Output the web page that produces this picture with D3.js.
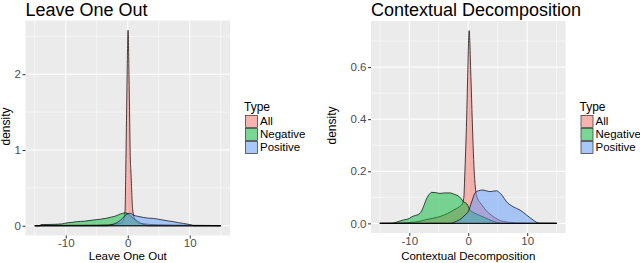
<!DOCTYPE html>
<head>
  <meta charset="utf-8">
  <script src="https://d3js.org/d3.v7.min.js"></script>
  <style>
    body { margin:0; background:#fff; }
    text { font-family: "Liberation Sans", Arial, sans-serif; }
  </style>
</head>
<body>
<script>
  // series: [x, density]
  var typeNames = ["All", "Negative", "Positive"];
  var typeColors = ["#F8766D", "#00BA38", "#619CFF"];
  var xTicks = [-10, 0, 10];
  var xMinor = [-15, -5, 5, 15];

  // Leave One Out
  var looYTicks = [0, 1, 2];
  var looYMinor = [0.5, 1.5, 2.5];
  var looAll = [[-15,0],[-12,0.005],[-8,0.007],[-5,0.01],[-2,0.02],[-1,0.04],[-0.6,0.1],[-0.43,0.21],
    [-0.32,0.74],[-0.22,1.3],[-0.1,2.0],[0.05,2.58],[0.2,2.0],[0.32,1.36],[0.42,0.87],[0.5,0.74],
    [0.8,0.21],[1.2,0.08],[2,0.03],[5,0.012],[10,0.006],[13,0.004],[15,0]];
  var looNeg = [[-15,0],[-14.2,0],[-14,0.015],[-12,0.018],[-10.5,0.025],[-10.2,0.032],[-9,0.045],
    [-8.3,0.053],[-7,0.06],[-5.6,0.075],[-4.5,0.085],[-3.5,0.098],[-2.6,0.115],[-1.9,0.13],
    [-1.2,0.155],[-0.8,0.164],[-0.4,0.17],[-0.15,0.165],[0.3,0.14],[1,0.09],[1.6,0.06],[2.2,0.03],
    [2.8,0.01],[3.5,0],[15,0]];
  var looPos = [[-15,0],[-3.3,0],[-3,0.005],[-2,0.03],[-1.2,0.07],[-0.6,0.12],[-0.2,0.15],[0.4,0.165],
    [0.9,0.14],[1.6,0.125],[2.5,0.11],[3.3,0.1],[4.1,0.097],[5,0.085],[5.7,0.075],[6.5,0.064],
    [7.4,0.053],[8.2,0.04],[9,0.03],[9.7,0.02],[10.3,0.01],[10.6,0],[15,0]];

  // Contextual Decomposition
  var cdYTicks = [0, 0.2, 0.4, 0.6];
  var cdYMinor = [0.1, 0.3, 0.5, 0.7];
  var cdAll = [[-15,0],[-12,0.001],[-9,0.005],[-7,0.015],[-5,0.025],[-4,0.033],[-3,0.044],[-2.5,0.051],
    [-2,0.057],[-1.5,0.064],[-1,0.075],[-0.75,0.1],[-0.56,0.205],[-0.28,0.397],[-0.1,0.564],
    [0.15,0.74],[0.45,0.564],[0.68,0.397],[1.0,0.205],[1.2,0.14],[1.5,0.1],[2,0.08],[2.5,0.065],
    [3,0.05],[4,0.03],[5,0.015],[6,0.007],[8,0.002],[10,0.001],[15,0]];
  var cdNeg = [[-15,0],[-13,0],[-12,0.006],[-11,0.013],[-10,0.019],[-9.6,0.025],[-8.2,0.038],
    [-7.6,0.064],[-7.05,0.096],[-6.6,0.112],[-6.2,0.119],[-5.5,0.118],[-4.8,0.115],[-4,0.117],
    [-3.1,0.117],[-2.4,0.112],[-1.7,0.105],[-1.2,0.095],[-0.85,0.083],[-0.4,0.078],[-0.1,0.07],
    [0.2,0.055],[0.6,0.045],[1,0.04],[2,0.03],[3,0.02],[4,0.01],[5,0.003],[6,0],[15,0]];
  var cdPos = [[-15,0],[-3.1,0],[-2,0.008],[-1.4,0.015],[-1,0.022],[-0.5,0.033],[0,0.045],[0.3,0.064],
    [0.7,0.09],[1.1,0.115],[1.7,0.125],[2.5,0.128],[3.2,0.124],[3.7,0.122],[4.3,0.124],[4.8,0.125],
    [5.3,0.118],[5.7,0.109],[6.5,0.083],[7.6,0.064],[8.8,0.051],[9.9,0.032],[11,0.013],[12.1,0],[15,0]];

  var svg = d3.select("body").append("svg")
    .attr("width", 640)
    .attr("height", 263);

  // ggplot writes a plain hyphen for negatives
  function fmtFn(spec) {
    var f = d3.format(spec);
    return function(v) { return f(v).replace("\u2212", "-"); };
  }

  function drawPanel(p) {
    var g = svg.append("g");
    var all = [].concat.apply([], p.series);
    var xr = [-15, 15], yMax = d3.max(all, function(d) { return d[1]; });
    var xPad = (xr[1] - xr[0]) * 0.05, yPad = yMax * 0.05;

    var x = d3.scaleLinear().domain([xr[0] - xPad, xr[1] + xPad]).range([p.left, p.right]);
    var y = d3.scaleLinear().domain([-yPad, yMax + yPad]).range([p.bottom, p.top]);

    g.append("rect")
      .attr("x", p.left).attr("y", p.top)
      .attr("width", p.right - p.left).attr("height", p.bottom - p.top)
      .attr("fill", "#EBEBEB");

    // grid
    g.selectAll(".gxm").data(xMinor).enter().append("line")
      .attr("x1", x).attr("x2", x).attr("y1", p.top).attr("y2", p.bottom)
      .attr("stroke", "#fff").attr("stroke-width", 0.5);
    g.selectAll(".gym").data(p.yMinor).enter().append("line")
      .attr("y1", y).attr("y2", y).attr("x1", p.left).attr("x2", p.right)
      .attr("stroke", "#fff").attr("stroke-width", 0.5);
    g.selectAll(".gx").data(xTicks).enter().append("line")
      .attr("x1", x).attr("x2", x).attr("y1", p.top).attr("y2", p.bottom)
      .attr("stroke", "#fff").attr("stroke-width", 1);
    g.selectAll(".gy").data(p.yTicks).enter().append("line")
      .attr("y1", y).attr("y2", y).attr("x1", p.left).attr("x2", p.right)
      .attr("stroke", "#fff").attr("stroke-width", 1);

    var area = d3.area()
      .x(function(d) { return x(d[0]); })
      .y0(y(0))
      .y1(function(d) { return y(d[1]); })
      .curve(d3.curveMonotoneX);

    g.selectAll(".dens").data(p.series).enter().append("path")
      .attr("d", function(d) { return area(d) + "Z"; })
      .attr("fill", function(d, i) { return typeColors[i]; })
      .attr("fill-opacity", 0.5)
      .attr("stroke", "#000")
      .attr("stroke-width", 0.7)
      .attr("stroke-linejoin", "round");

    // axes
    var ax = g.append("g")
      .attr("transform", "translate(0," + p.bottom + ")")
      .call(d3.axisBottom(x).tickValues(xTicks).tickSize(3).tickPadding(0.5).tickFormat(fmtFn("d")));
    var ay = g.append("g")
      .attr("transform", "translate(" + p.left + ",0)")
      .call(d3.axisLeft(y).tickValues(p.yTicks).tickSize(3).tickPadding(1.5).tickFormat(fmtFn(p.fmt)));
    [ax, ay].forEach(function(a) {
      a.select(".domain").remove();
      a.selectAll("line").attr("stroke", "#333");
      a.selectAll("text").attr("fill", "#4D4D4D").style("font-size", "11.5px")
        .style("font-family", "'Liberation Sans', Arial, sans-serif");
    });

    g.append("text")
      .attr("x", p.left).attr("y", 16.3)
      .style("font-size", "18px")
      .text(p.title);

    g.append("text")
      .attr("x", (p.left + p.right) / 2).attr("y", 260.4)
      .attr("text-anchor", "middle")
      .style("font-size", "11.5px")
      .text(p.title);

    g.append("text")
      .attr("transform", "translate(" + p.ylabX + "," + ((p.top + p.bottom) / 2 - 1.5) + ") rotate(-90)")
      .attr("text-anchor", "middle")
      .style("font-size", "12px")
      .text("density");

    // legend
    var lx = p.right + 15;
    g.append("text").attr("x", lx - 1).attr("y", 110.7)
      .style("font-size", "12px").text("Type");
    var items = g.selectAll(".key").data(typeNames).enter().append("g")
      .attr("transform", function(d, i) { return "translate(" + lx + "," + (115 + i * 13) + ")"; });
    items.append("rect")
      .attr("width", 13).attr("height", 13)
      .attr("fill", "#F2F2F2");
    items.append("rect")
      .attr("x", 0.5).attr("y", 0.5)
      .attr("width", 12).attr("height", 12)
      .attr("fill", function(d, i) { return typeColors[i]; })
      .attr("fill-opacity", 0.5)
      .attr("stroke", "#333").attr("stroke-width", 0.7);
    items.append("text")
      .attr("x", 15).attr("y", 9.8)
      .style("font-size", "11.5px")
      .text(function(d) { return d; });
  }

  drawPanel({ title: "Leave One Out", series: [looAll, looNeg, looPos],
    yTicks: looYTicks, yMinor: looYMinor, fmt: "d",
    left: 25.5, right: 230, top: 20.5, bottom: 235.5, ylabX: 9.5 });
  drawPanel({ title: "Contextual Decomposition", series: [cdAll, cdNeg, cdPos],
    yTicks: cdYTicks, yMinor: cdYMinor, fmt: ".1f",
    left: 371, right: 565.5, top: 21, bottom: 233, ylabX: 336 });
</script>
</body>
